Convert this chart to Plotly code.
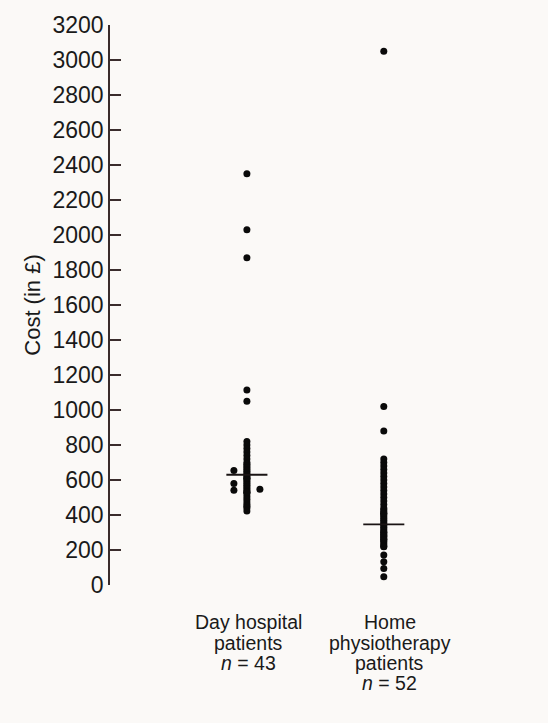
import plotly.graph_objects as go

# ---- data ----
category_lines = [
    ["Day hospital", "patients", "<i>n</i> = 43"],
    ["Home", "physiotherapy", "patients", "<i>n</i> = 52"],
]

day_hospital_costs = [2350, 2030, 1870, 1115, 1050,
                      820, 800, 780, 760, 740, 720, 700, 690, 680, 670, 660, 650,
                      640, 630, 620, 610, 600, 590, 580, 570, 560, 550, 540, 530,
                      520, 505, 490, 475, 460, 450, 440, 423,
                      655, 580, 541, 547, 610, 530]
day_hospital_side = [0] * 37 + [-1, -1, -1, 1] + [0, 0]

home_physio_costs = [3050, 1020, 880,
                     720, 700, 680, 660, 640, 620, 600, 580, 560, 540,
                     520, 500, 480, 460, 440,
                     430, 420, 410, 400, 390, 380, 370, 360, 350, 340, 330, 320,
                     310, 300, 290, 280, 270, 260, 250, 240, 230, 220, 218,
                     300, 280, 260, 171, 133, 95, 47,
                     408]
home_physio_side = [0] * 51 + [-1]

group_averages = [630, 347]

y_ticks = list(range(0, 3201, 200))

# ---- figure ----
fig = go.Figure()
offset = 0.095
for gi, (vals, sides) in enumerate([(day_hospital_costs, day_hospital_side),
                                    (home_physio_costs, home_physio_side)]):
    xs = [gi + 1 + s * offset for s in sides]
    fig.add_trace(go.Scatter(x=xs, y=vals, mode="markers",
                             marker=dict(size=7, color="#0a0a0a"),
                             showlegend=False, hoverinfo="y"))
    fig.add_trace(go.Scatter(x=[gi + 1 - 0.15, gi + 1 + 0.15],
                             y=[group_averages[gi]] * 2, mode="lines",
                             line=dict(color="#1a1414", width=1.8),
                             showlegend=False, hoverinfo="skip"))

line_offsets = [37, 58, 78, 98]
for gi, lines in enumerate(category_lines):
    for li, txt in enumerate(lines):
        fig.add_annotation(x=gi + 1, y=0, xref="x", yref="paper", text=txt,
                           showarrow=False, yanchor="middle",
                           yshift=-line_offsets[li],
                           xshift=2 if gi == 0 else 6,
                           font=dict(size=19.5, color="#1a1a1a",
                                     family="Liberation Sans, Arial, sans-serif"),
                           align="center")

fig.update_layout(
    width=548, height=723,
    margin=dict(l=110, r=41, t=23, b=138),
    paper_bgcolor="#fbf9f7", plot_bgcolor="#fbf9f7",
    font=dict(family="Liberation Sans, Arial, sans-serif", color="#1a1a1a"),
    xaxis=dict(range=[0, 2.9], showgrid=False, zeroline=False,
               showline=False, showticklabels=False, ticks=""),
    yaxis=dict(range=[0, 3200], tickmode="array", tickvals=y_ticks,
               showgrid=False, zeroline=False, showline=True,
               linecolor="#3a2c2c", linewidth=1.5, ticks="inside",
               ticklen=11, tickwidth=1.5, tickcolor="#3a2c2c",
               tickfont=dict(size=23, color="#1a1a1a"),
               title=dict(text="Cost (in £)", font=dict(size=22),
                          standoff=6)),
)

fig.write_html("out.html", config={"displayModeBar": False},
               post_script="document.body.style.margin='0';"
                           "document.body.style.padding='0';"
                           "document.body.style.background='#fbf9f7';")
